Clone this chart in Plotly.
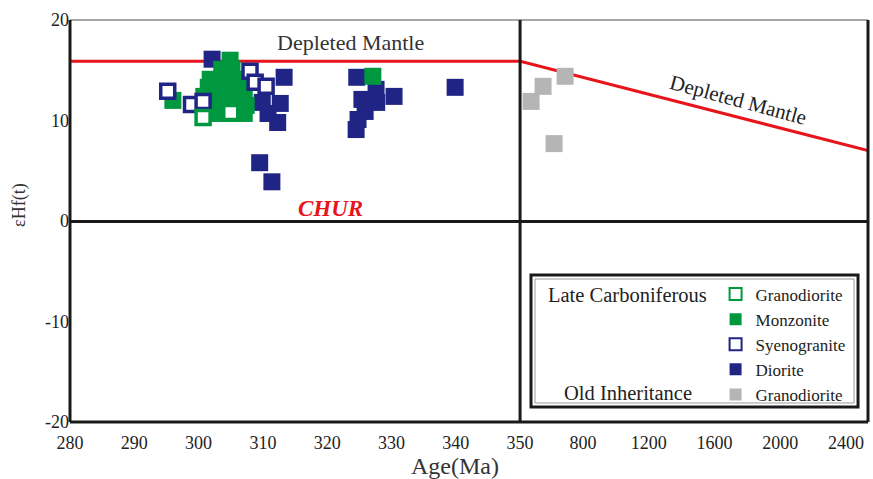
import plotly.graph_objects as go

# ---------------- data ----------------
# Late Carboniferous monzonite (filled green)
monz_age = [296.0, 304.9, 303.6, 305.2, 301.8, 303.6, 305.8, 301.5, 303.3, 305.2, 306.4,
            300.8, 302.4, 304.3, 306.1, 307.1, 300.8, 302.7, 304.6, 306.4, 307.4,
            301.2, 303.0, 305.2, 307.1, 327.1]
monz_ehf = [12.0, 16.0, 15.1, 15.1, 14.1, 14.1, 14.1, 13.3, 13.3, 13.3, 13.3,
            12.4, 12.4, 12.4, 12.4, 12.4, 11.5, 11.5, 11.5, 11.5, 11.5,
            10.7, 10.7, 10.7, 10.7, 14.4]

# Late Carboniferous diorite (filled navy)
dior_age = [302.1, 313.3, 309.9, 312.7, 310.8, 312.3, 309.5, 311.4,
            324.6, 327.6, 327.7, 325.4, 325.9, 324.8, 324.5, 330.4, 339.9]
dior_ehf = [16.1, 14.3, 11.8, 11.7, 10.7, 9.8, 5.8, 3.9,
            14.3, 13.1, 11.8, 12.1, 10.9, 10.1, 9.1, 12.4, 13.3]

# Late Carboniferous syenogranite (open navy)
syen_age = [295.2, 298.9, 300.7, 308.0, 308.8, 310.5]
syen_ehf = [12.9, 11.6, 11.9, 14.9, 13.8, 13.4]

# Late Carboniferous granodiorite (open green)
gran_age = [300.7, 305.0]
gran_ehf = [10.3, 10.8]

# Old inheritance granodiorite (grey)
old_age = [484, 557, 691, 624]
old_ehf = [11.9, 13.4, 14.4, 7.7]

# Depleted mantle reference line
dm_left_age = [280, 350]
dm_left_ehf = [15.9, 15.9]
dm_right_age = [417, 2534]
dm_right_ehf = [15.9, 7.0]

left_ticks = [280, 290, 300, 310, 320, 330, 340, 350]
right_ticks = [800, 1200, 1600, 2000, 2400]
y_ticks = [20, 10, 0, -10, -20]
y_ticktext = ["20", "10", "0", "-10", "-20"]

# ---------------- style ----------------
GREEN = "#00983f"
NAVY = "#202585"
GREY = "#b5b5b5"
RED = "#e8141b"
SERIF = "Liberation Serif"
SPLIT = 0.564

fig = go.Figure()

fig.add_trace(go.Scatter(x=dm_left_age, y=dm_left_ehf, mode="lines",
                         line=dict(color=RED, width=3), showlegend=False,
                         xaxis="x", yaxis="y"))
fig.add_trace(go.Scatter(x=dm_right_age, y=dm_right_ehf, mode="lines",
                         line=dict(color=RED, width=3), showlegend=False,
                         xaxis="x2", yaxis="y"))

fig.add_trace(go.Scatter(x=dior_age, y=dior_ehf, mode="markers", name="Diorite",
                         legendrank=4,
                         marker=dict(symbol="square", size=17, color=NAVY, line=dict(width=0)),
                         xaxis="x", yaxis="y"))
fig.add_trace(go.Scatter(x=monz_age, y=monz_ehf, mode="markers", name="Monzonite",
                         legendrank=2,
                         marker=dict(symbol="square", size=17, color=GREEN, line=dict(width=0)),
                         xaxis="x", yaxis="y"))
fig.add_trace(go.Scatter(x=syen_age, y=syen_ehf, mode="markers", name="Syenogranite",
                         legendrank=3,
                         marker=dict(symbol="square", size=14, color="white",
                                     line=dict(width=3.5, color=NAVY)),
                         xaxis="x", yaxis="y"))
fig.add_trace(go.Scatter(x=gran_age, y=gran_ehf, mode="markers", name="Granodiorite",
                         legendrank=1,
                         marker=dict(symbol="square", size=14, color="white",
                                     line=dict(width=3.5, color=GREEN)),
                         xaxis="x", yaxis="y"))
fig.add_trace(go.Scatter(x=old_age, y=old_ehf, mode="markers", name="Granodiorite ",
                         legendrank=5,
                         marker=dict(symbol="square", size=17, color=GREY, line=dict(width=0)),
                         xaxis="x2", yaxis="y"))

tickfont = dict(family=SERIF, size=18, color="#222")

fig.update_layout(
    width=873, height=479,
    margin=dict(l=70, r=5, t=20, b=57, autoexpand=False),
    paper_bgcolor="white", plot_bgcolor="white",
    font=dict(family=SERIF, color="#222"),
    xaxis=dict(domain=[0, SPLIT], range=[280, 350], tickvals=left_ticks,
               showgrid=False, zeroline=False, showline=False, ticks="",
               ticklabelstandoff=8, tickfont=tickfont),
    xaxis2=dict(domain=[SPLIT, 1], range=[417, 2534], tickvals=right_ticks,
                anchor="y", showgrid=False, zeroline=False, showline=False, ticks="",
                ticklabelstandoff=8, tickfont=tickfont),
    yaxis=dict(range=[-20, 20], tickvals=y_ticks, ticktext=y_ticktext, showgrid=False,
               zeroline=True, zerolinecolor="#1a1a1a", zerolinewidth=3,
               showline=False, ticks="", tickfont=tickfont),
    showlegend=True,
    legend=dict(x=0.809, y=0.362, xanchor="left", yanchor="top",
                bgcolor="rgba(0,0,0,0)", borderwidth=0,
                font=dict(family=SERIF, size=17, color="#222"),
                itemsizing="constant", tracegroupgap=0),
)

shapes = [
    dict(type="line", xref="paper", yref="paper", x0=0, x1=1, y0=1, y1=1,
         line=dict(color="#8a8a8a", width=1.5)),
    dict(type="line", xref="paper", yref="paper", x0=0, x1=0, y0=0, y1=1,
         line=dict(color="#1a1a1a", width=3)),
    dict(type="line", xref="paper", yref="paper", x0=1, x1=1, y0=0, y1=1,
         line=dict(color="#1a1a1a", width=3)),
    dict(type="line", xref="paper", yref="paper", x0=0, x1=1, y0=0, y1=0,
         line=dict(color="#1a1a1a", width=3)),
    dict(type="line", xref="paper", yref="paper", x0=SPLIT, x1=SPLIT, y0=0, y1=1,
         line=dict(color="#1a1a1a", width=3)),
    dict(type="rect", xref="paper", yref="paper", x0=0.5777, x1=0.9875, y0=0.0373, y1=0.3657,
         line=dict(color="#1a1a1a", width=3)),
    dict(type="rect", xref="paper", yref="paper", x0=0.5827, x1=0.9825, y0=0.0473, y1=0.3557,
         line=dict(color="#9a9a9a", width=1)),
]
fig.update_layout(shapes=shapes)

ann = [
    dict(text="Depleted Mantle", x=0.351, y=0.943, font=dict(size=22, color="#333")),
    dict(text="Depleted Mantle", x=0.838, y=0.801, textangle=15, font=dict(size=21, color="#222")),
    dict(text="<b><i>CHUR</i></b>", x=0.327, y=0.530, font=dict(size=23, color=RED)),
    dict(text="εHf(t)", x=-0.0627, y=0.540, textangle=-90, font=dict(size=18, color="#333")),
    dict(text="Age(Ma)", x=0.482, y=-0.109, font=dict(size=24, color="#333")),
    dict(text="Late Carboniferous", x=0.699, y=0.316, font=dict(size=20.5, color="#222")),
    dict(text="Old Inheritance", x=0.699, y=0.072, font=dict(size=20.5, color="#222")),
]
for a in ann:
    a.update(xref="paper", yref="paper", showarrow=False, xanchor="center", yanchor="middle")
    a["font"]["family"] = SERIF
fig.update_layout(annotations=ann)

fig.write_html("out.html")
